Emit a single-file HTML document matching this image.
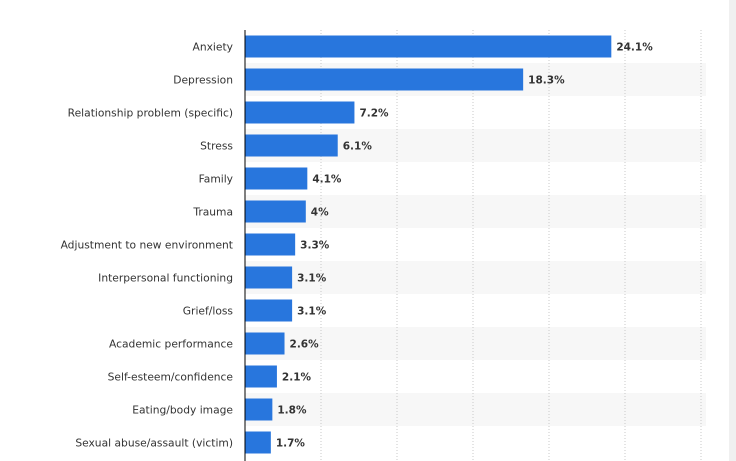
<!DOCTYPE html>
<html><head><meta charset="utf-8"><style>
html,body{margin:0;padding:0;background:#fff;width:736px;height:461px;overflow:hidden}
svg{display:block;font-family:"DejaVu Sans","Liberation Sans",sans-serif}
</style></head><body>
<svg id="chart" width="736" height="461">
<rect x="729" y="0" width="7" height="461" fill="#f0f0f0"/>
</svg>
<script>
const categories=["Anxiety","Depression","Relationship problem (specific)","Stress","Family","Trauma","Adjustment to new environment","Interpersonal functioning","Grief/loss","Academic performance","Self-esteem/confidence","Eating/body image","Sexual abuse/assault (victim)"];
const values=[24.1,18.3,7.2,6.1,4.1,4,3.3,3.1,3.1,2.6,2.1,1.8,1.7];
const valueLabels=["24.1%","18.3%","7.2%","6.1%","4.1%","4%","3.3%","3.1%","3.1%","2.6%","2.1%","1.8%","1.7%"];
const gridTicks=[5,10,15,20,25,30];
const svg=document.getElementById('chart');
const NS='http://www.w3.org/2000/svg';
const x0=245,xMax=30,plotW=456,top0=30,rowH=33,barH=22;
const xs=v=>x0+v/xMax*plotW;
const ys=i=>top0+i*rowH;
function mk(t,a){const e=document.createElementNS(NS,t);for(const k in a)e.setAttribute(k,a[k]);svg.appendChild(e);return e;}
categories.forEach((c,i)=>{if(i%2===1){const r=mk('rect',{x:x0,y:ys(i),width:461,height:rowH,fill:'#f7f7f7'});

}});
gridTicks.forEach(t=>{const l=mk('line',{x1:xs(t),x2:xs(t),y1:top0,y2:461,stroke:'#c8c8c8','stroke-dasharray':'1,2'});

});
categories.forEach((c,i)=>{
const cy=ys(i)+rowH/2;
const b=mk('rect',{x:x0,y:cy-barH/2,width:xs(values[i])-x0,height:barH,fill:'#2876dd'});


const lt=mk('text',{x:233,y:cy+4,'text-anchor':'end','font-size':'10.7',fill:'#333'});lt.textContent=c;


const vt=mk('text',{x:xs(values[i])+5,y:cy+4,'font-size':'10.5','font-weight':'bold',fill:'#333'});vt.textContent=valueLabels[i];


});
const ax=mk('line',{x1:x0,x2:x0,y1:top0,y2:461,stroke:'#000','stroke-width':1});


</script>
</body></html>
